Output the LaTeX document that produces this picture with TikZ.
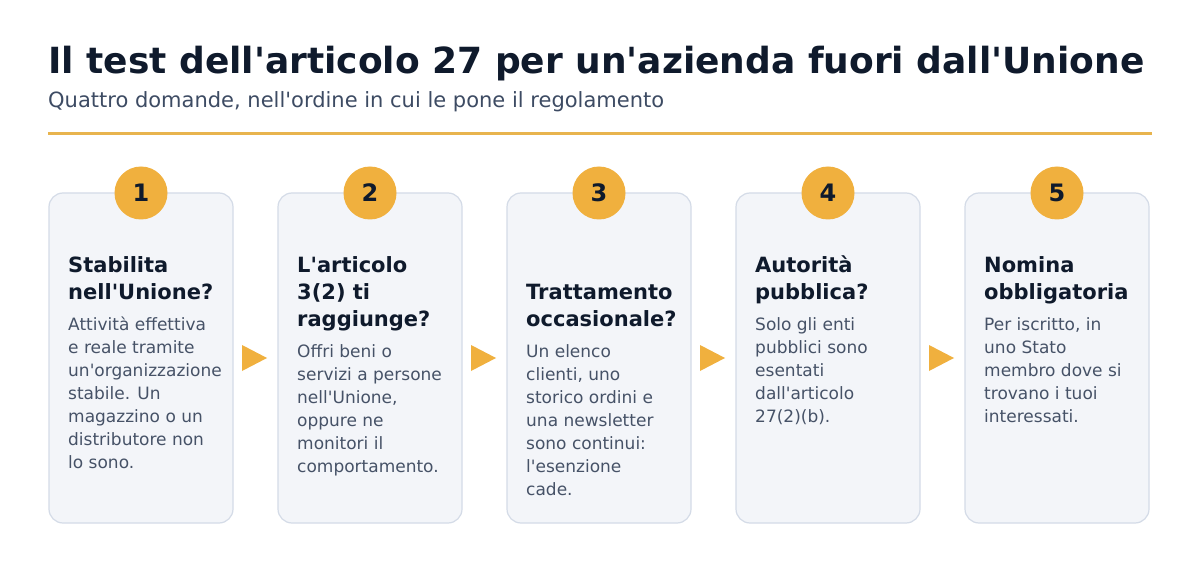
\documentclass[tikz,border=0pt]{standalone}
\usepackage{fontspec}
\setmainfont{DejaVu Sans}[Ligatures=TeXOff]
\usetikzlibrary{shapes.geometric}
\usetikzlibrary{positioning}
\definecolor{inkdark}{HTML}{0F1A2C}
\definecolor{inkslate}{HTML}{3D4B63}
\definecolor{bodyslate}{HTML}{465267}
\definecolor{gold}{HTML}{F0B03E}
\definecolor{goldrule}{HTML}{E8B44E}
\definecolor{cardfill}{HTML}{F3F5F9}
\definecolor{cardline}{HTML}{D4DBE7}
\tikzstyle{card} = [rectangle, rounded corners=14pt, minimum width=184pt, minimum height=330pt, outer sep=0pt, draw=cardline, line width=1.2pt, fill=cardfill]
\tikzstyle{badge} = [circle, minimum size=53pt, inner sep=0pt, fill=gold, text=inkdark, font=\bfseries\fontsize{24}{24}\selectfont]
\tikzstyle{marker} = [isosceles triangle, isosceles triangle stretches, minimum width=26pt, minimum height=25pt, inner sep=0pt, outer sep=0pt, fill=gold]
\tikzstyle{heading} = [align=left, inner sep=0pt, anchor=base west, text=inkdark, font=\bfseries\fontsize{21}{27}\selectfont]
\tikzstyle{body} = [align=left, inner sep=0pt, anchor=base west, text=bodyslate, font=\fontsize{17}{23}\selectfont]
\begin{document}
\begin{tikzpicture}[x=1pt, y=-1pt, node distance=45pt]
		\useasboundingbox[fill=white] (0,0) rectangle (1200,564);

		\node (title) [anchor=base west, inner sep=0pt, text=inkdark, font=\bfseries\fontsize{36}{36}\selectfont] at (48,74) {Il test dell'articolo 27 per un'azienda fuori dall'Unione};
		\node (subtitle) [anchor=base west, inner sep=0pt, text=inkslate, font=\fontsize{21}{21}\selectfont] at (48,108) {Quattro domande, nell'ordine in cui le pone il regolamento};
		\draw[goldrule, line width=3pt] (48,134) -- (1152,134);

		\node (card_stabilita) [card] at (141,358) {};
		\node (card_art3) [card, right=of card_stabilita] {};
		\node (card_occasionale) [card, right=of card_art3] {};
		\node (card_autorita) [card, right=of card_occasionale] {};
		\node (card_nomina) [card, right=of card_autorita] {};

		\node (num_1) [badge] at (card_stabilita.north) {1};
		\node (num_2) [badge] at (card_art3.north) {2};
		\node (num_3) [badge] at (card_occasionale.north) {3};
		\node (num_4) [badge] at (card_autorita.north) {4};
		\node (num_5) [badge] at (card_nomina.north) {5};

		\node (next_1) [marker, right=9pt of card_stabilita] {};
		\node (next_2) [marker, right=9pt of card_art3] {};
		\node (next_3) [marker, right=9pt of card_occasionale] {};
		\node (next_4) [marker, right=9pt of card_autorita] {};

		% base = baseline of the last line
		\node (head_stabilita) [heading] at (68,299) {Stabilita\\nell'Unione?};
		\node (text_stabilita) [body] at (68,468) {Attività effettiva\\e reale tramite\\un'organizzazione\\stabile. Un\\magazzino o un\\distributore non\\lo sono.};

		\node (head_art3) [heading] at (297,326) {L'articolo\\3(2) ti\\raggiunge?};
		\node (text_art3) [body] at (297,472) {Offri beni o\\servizi a persone\\nell'Unione,\\oppure ne\\monitori il\\comportamento.};

		\node (head_occasionale) [heading] at (526,326) {Trattamento\\occasionale?};
		\node (text_occasionale) [body] at (526,495) {Un elenco\\clienti, uno\\storico ordini e\\una newsletter\\sono continui:\\l'esenzione\\cade.};

		\node (head_autorita) [heading] at (755,299) {Autorità\\pubblica?};
		\node (text_autorita) [body] at (755,422) {Solo gli enti\\pubblici sono\\esentati\\dall'articolo\\27(2)(b).};

		\node (head_nomina) [heading] at (984,299) {Nomina\\obbligatoria};
		\node (text_nomina) [body] at (984,422) {Per iscritto, in\\uno Stato\\membro dove si\\trovano i tuoi\\interessati.};
	\end{tikzpicture}
\end{document}
